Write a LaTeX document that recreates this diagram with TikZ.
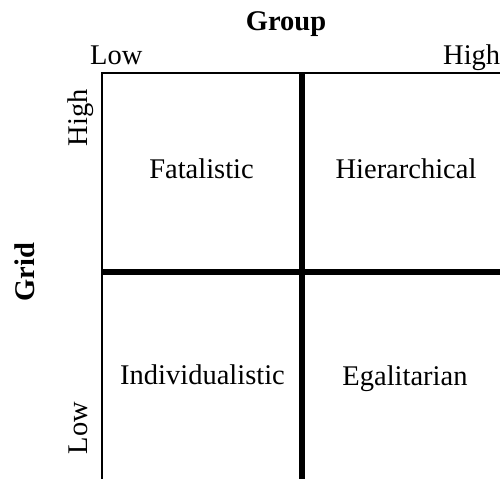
\documentclass[tikz,border=0pt]{standalone}
\usepackage{fontspec}
\setmainfont{Liberation Serif}
\begin{document}
\begin{tikzpicture}[x=1bp,y=1bp,
  lbl/.style={inner sep=0pt,font=\fontsize{28.5bp}{34bp}\selectfont},
  bold/.style={lbl,font=\fontsize{28.5bp}{34bp}\selectfont\bfseries},
  thinline/.style={line width=2bp,line cap=rect},
  thickline/.style={line width=5.5bp}]
\useasboundingbox (0,0) rectangle (500,479);
% frame coordinates
\coordinate (tl) at (102,406);
\coordinate (tr) at (512,406);
\coordinate (bl) at (102,-2);
\coordinate (tm) at (302,406);
\coordinate (bm) at (302,-2);
\coordinate (ml) at (102,207);
\coordinate (mr) at (512,207);
\draw[thinline] (tr) -- (tl) -- (bl);
\draw[thickline] (tm) -- (bm);
\draw[thickline] (ml) -- (mr);
% axis titles
\node[bold,anchor=base] (group) at (286,448) {Group};
\node[bold,anchor=base,rotate=90] (grid) at (34,207) {Grid};
% axis ends
\node[lbl,anchor=base west] (glow) at (90,414) {Low};
\node[lbl,anchor=base west] (ghigh) at (443,414) {High};
\node[lbl,anchor=base,rotate=90] (rhigh) at (87,361) {High};
\node[lbl,anchor=base,rotate=90] (rlow) at (87,51) {Low};
% cells
\node[lbl,anchor=base] (fat) at (201.5,300) {Fatalistic};
\node[lbl,anchor=base] (hier) at (406,300) {Hierarchical};
\node[lbl,anchor=base] (ind) at (202.5,94) {Individualistic};
\node[lbl,anchor=base] (ega) at (405,93) {Egalitarian};
\end{tikzpicture}
\end{document}
